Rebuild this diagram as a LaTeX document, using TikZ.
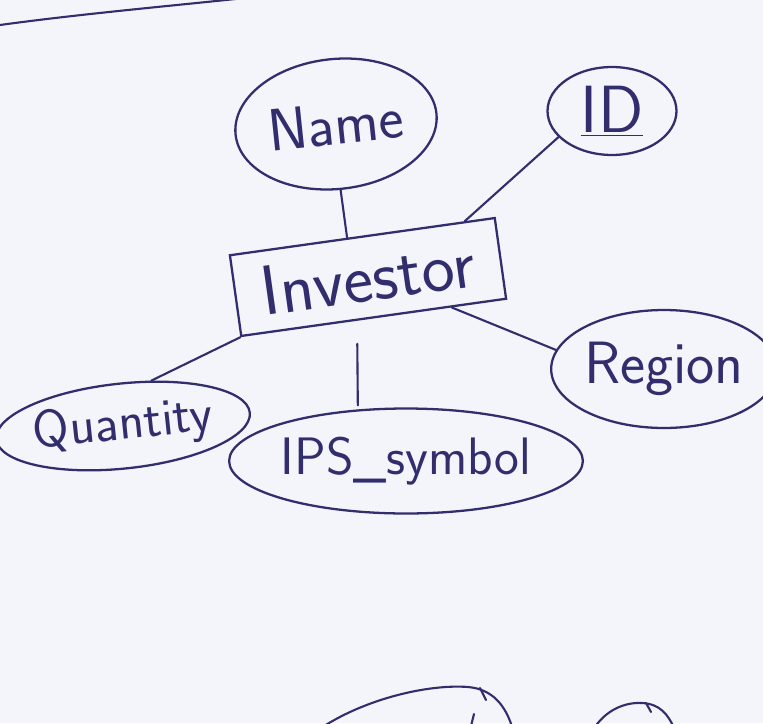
\documentclass[tikz,border=0pt]{standalone}
\usetikzlibrary{shapes.geometric}
\definecolor{ink}{RGB}{50,46,110}
\definecolor{board}{RGB}{244,245,250}
\newcommand{\hand}[1]{\sffamily\fontsize{#1}{#1}\selectfont}
\begin{document}
\begin{tikzpicture}[x=0.02cm,y=-0.02cm,
	every node/.style={font=\hand{30},text=ink},
	attrib/.style={ellipse,draw=ink,line width=1.3pt,inner sep=0pt},
	entity/.style={rectangle,draw=ink,line width=1.3pt,inner sep=0pt,minimum width=5.35cm,minimum height=1.63cm},
	link/.style={draw=ink,line width=1.2pt,line cap=round}]
	\fill[board] (0,0) rectangle (763,723);
	\useasboundingbox (0,0) rectangle (763,723);
	% entity and its attributes
	\node[entity,rotate=8,font=\hand{40}] (inv) at (368,277) {Investor};
	\node[attrib,rotate=6,font=\hand{34},minimum width=4.04cm,minimum height=2.6cm] (name) at (336,124) {Name};
	\node[attrib,font=\hand{38},minimum width=2.58cm,minimum height=1.76cm] (id) at (612,111) {\underline{ID}};
	\node[attrib,font=\hand{34},minimum width=3.96cm,minimum height=2.36cm] (region) at (664,369) {Region};
	\node[attrib,minimum width=5.7cm,minimum height=2.1cm] (ips) at (406,461) {IPS\_symbol};
	\node[attrib,rotate=6,minimum width=4.86cm,minimum height=1.7cm] (quan) at (123,426) {Quantity};
	% connectors
	\draw[link] (name.-92) -- (inv.110);
	\draw[link] (id.206) -- (inv.22);
	\draw[link] (region.170) -- (inv.-28);
	\draw[link,shorten <=0.46cm,shorten >=0.08cm] (inv.-112) -- (ips.133);
	\draw[link] (inv.south west) -- (quan.52);
	% cut off strokes at the edges
	\begin{scope}
		\clip (0,0) rectangle (763,723);
		\draw[link] (0,25) .. controls (80,14) and (170,6) .. (245,-2);
		\draw[link] (318,730) .. controls (365,698) and (430,684) .. (468,687) .. controls (492,689) and (506,705) .. (513,730);
		\draw[link] (480,688) -- (486,700);
		\draw[link] (474,714) -- (470,730);
		\draw[link] (593,730) .. controls (605,710) and (625,702) .. (642,703) .. controls (660,704) and (668,714) .. (675,730);
		\draw[link] (646,703) -- (651,712);
	\end{scope}
\end{tikzpicture}
\end{document}
